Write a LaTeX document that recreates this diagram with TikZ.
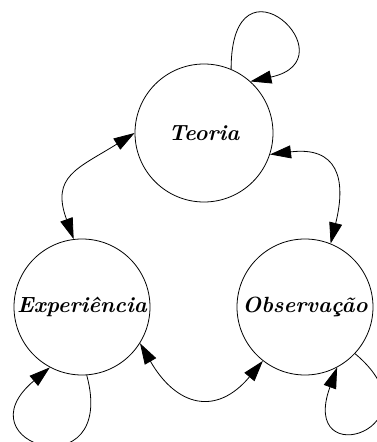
\documentclass[tikz,border=0pt]{standalone}
\usepackage{fontspec}
\usepackage{tikz}
\usetikzlibrary{arrows, arrows.meta}
\tikzstyle{state} = [circle, draw=black, line width=0.8pt, minimum size=138pt, inner sep=0pt, font=\fontsize{22}{24}\selectfont\bfseries\itshape]
\tikzstyle{arrow} = [line width=0.8pt, -{Triangle[length=21pt,width=13pt]}]
\tikzstyle{biarrow} = [line width=0.8pt, {Triangle[length=21pt,width=13pt]}-{Triangle[length=21pt,width=13pt]}]

\begin{document}
\begin{tikzpicture}[x=1pt, y=1pt]
                        \useasboundingbox (0,0) rectangle (377,442);
                        \node (T) [state] at (204,309) {Teoria};
                        \node (E) [state, minimum size=136pt] at (82,135) {Experiência};
                        \node (O) [state, minimum size=136pt] at (305,135) {Observação};
                        % ligacoes entre os estados
                        \draw (T.180) [biarrow] to[out=212, in=110, looseness=1.4] (E.97);
                        \draw (T.-18) [biarrow] to[out=7, in=76, looseness=1.6] (O.68);
                        \draw (E.-32) [biarrow] to[out=-60, in=230, looseness=1.5] (O.-128);
                        % lacos
                        \draw (T.67) [arrow] .. controls +(90:125) and +(12:105) .. (T.48);
                        \draw (E.-86) [arrow] .. controls +(-75:120) and +(220:120) .. (E.-118);
                        \draw (O.-43) [arrow] .. controls +(-40:115) and +(250:115) .. (O.-62);
                    \end{tikzpicture}
\end{document}
